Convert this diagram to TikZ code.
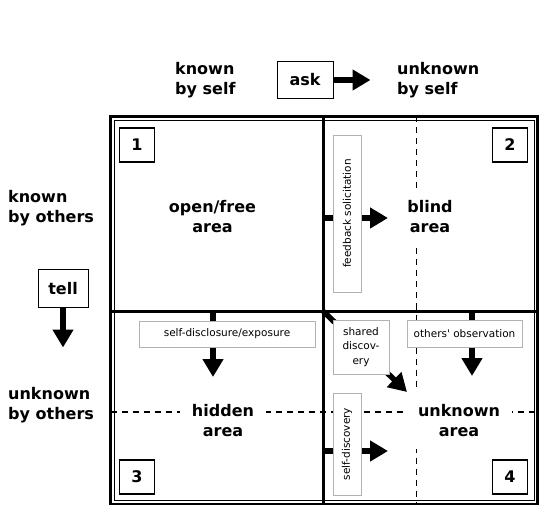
\documentclass[tikz,border=0pt]{standalone}
\usepackage{fontspec}
\setmainfont{DejaVu Sans}
\usetikzlibrary{positioning, arrows.meta, backgrounds}
\tikzset{
x=1pt, y=-1pt, % one unit is one pixel, y runs downwards
bigarrow/.style={line width=5.5pt, -{Triangle[width=20pt,length=18pt]}}, % the fat black arrows
area/.style={font=\bfseries\fontsize{16}{20}\selectfont, align=center, fill=white, inner xsep=12pt, inner ysep=12pt}, % names of the four panes
side/.style={font=\bfseries\fontsize{16}{20}\selectfont, align=left, anchor=west, inner sep=0pt}, % texts round the window
numbox/.style={draw, line width=1.5pt, fill=white, minimum width=35pt, minimum height=34pt, font=\bfseries\fontsize{16}{20}\selectfont},
keybox/.style={draw, line width=1pt, minimum height=37pt, font=\bfseries\fontsize{16}{20}\selectfont}, % ask and tell
tag/.style={draw=gray!60, line width=0.8pt, fill=white, inner sep=2pt, align=center, font=\fontsize{10.5}{14.5}\selectfont}, % grey captions on the arrows
divider/.style={dash pattern=on 6pt off 5pt, line width=1.7pt},
}

\begin{document}
\begin{tikzpicture}
\useasboundingbox (0,0) rectangle (554,529);

% the window
\coordinate (tl) at (110.5,116.5);
\coordinate (br) at (537.5,504);
\coordinate (mid) at (323.5,311.5);
\coordinate (cross) at (416.5,412);

% texts round it
\node[side] (ks) at (175,80) {known\\by self};
\node[side] (us) at (397,80) {unknown\\by self};
\node[side] (ko) at (8,208) {known\\by others};
\node[side] (uo) at (8,405) {unknown\\by others};
\node[keybox, minimum width=56pt] (ask) at (305,80) {ask};
\node[keybox, minimum width=50pt] (tell) at (63,288.5) {tell};
\coordinate[right=37pt of ask] (ask1);
\coordinate[below=40pt of tell] (tell1);

% panes
\node[area] (open) at (212.5,217) {open/free\\area};
\node[area] (blind) at (430,217) {blind\\area};
\node[area] (hidden) at (223,420.5) {hidden\\area};
\node[area] (unknown) at (459,420.5) {unknown\\area};

\node[numbox] (n1) at (137,145) {1};
\node[numbox] (n2) at (510,145) {2};
\node[numbox] (n3) at (137,477) {3};
\node[numbox] (n4) at (510,477) {4};

% captions
\node[tag, rotate=90, minimum width=157pt, minimum height=28pt] (fb) at (347,213.5) {feedback solicitation};
\node[tag, minimum width=176pt, minimum height=26pt] (sd) at (227,334) {self-disclosure/exposure};
\node[tag, minimum width=115pt, minimum height=27pt] (oo) at (464.5,333.5) {others\textquotesingle{} observation};
\node[tag, minimum width=56pt, minimum height=54pt] (sh) at (361,347) {shared\\discov-\\ery};
\node[tag, rotate=90, minimum width=102pt, minimum height=28pt] (sdc) at (347,444) {self-discovery};

\coordinate (fb0) at (323.5,218);
\coordinate (fb1) at (388,218);
\coordinate (sd0) at (213,311.5);
\coordinate (sd1) at (213,377);
\coordinate (oo0) at (472,311.5);
\coordinate (oo1) at (472,376);
\coordinate (sh1) at (407,392);
\coordinate (sdc0) at (323.5,451);
\coordinate (sdc1) at (388,451);

\begin{scope}[on background layer]
\draw[divider] (cross |- tl) -- (cross |- br);
\draw[divider] (cross -| tl) -- (cross -| br);

\draw[line width=2.5pt] (tl) rectangle (br);
\draw[line width=0.8pt] ([shift={(3.5,3.5)}]tl) rectangle ([shift={(-3.5,-3.5)}]br);
\draw[line width=3.5pt] (mid |- tl) -- (mid |- br);
\draw[line width=3.5pt] (mid -| tl) -- (mid -| br);

\draw[bigarrow] (ask) -- (ask1);
\draw[bigarrow] (tell) -- (tell1);
\draw[bigarrow] (fb0) -- (fb1);
\draw[bigarrow] (sd0) -- (sd1);
\draw[bigarrow] (oo0) -- (oo1);
\draw[bigarrow] (mid) -- (sh1);
\draw[bigarrow] (sdc0) -- (sdc1);
\end{scope}
\end{tikzpicture}
\end{document}
